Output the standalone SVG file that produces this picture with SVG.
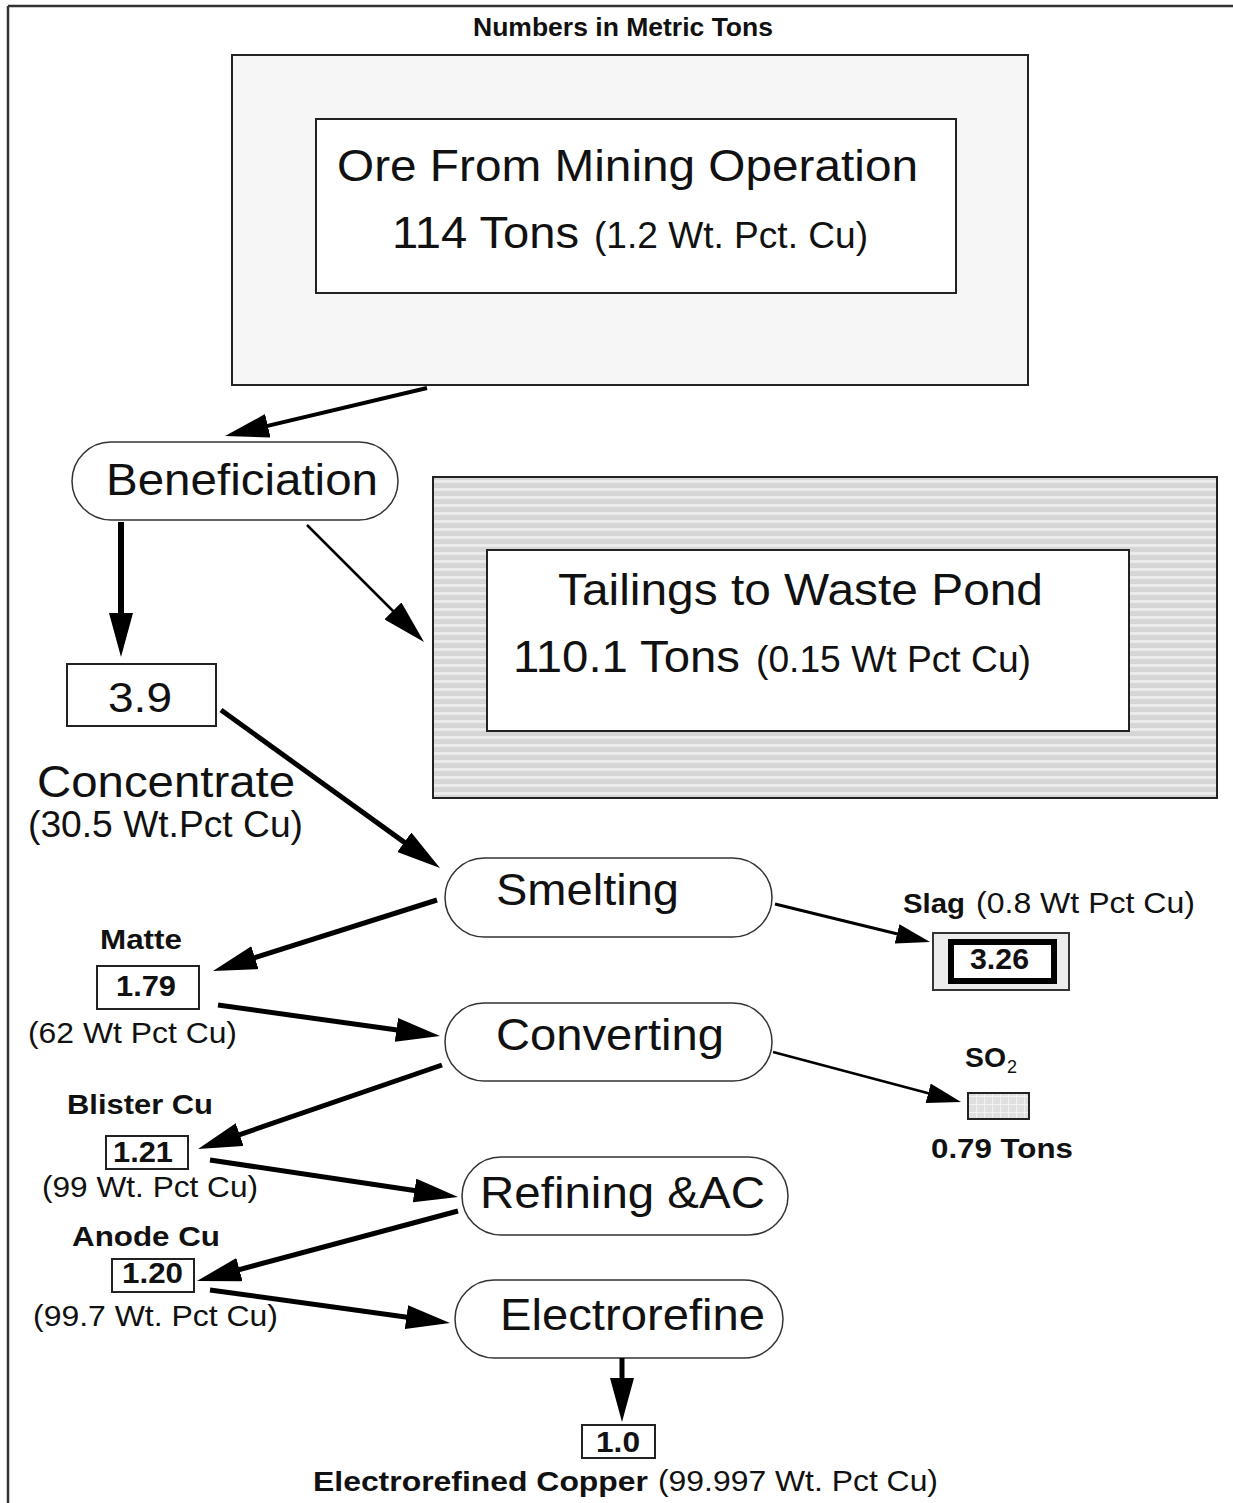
<svg xmlns="http://www.w3.org/2000/svg" width="1233" height="1503" viewBox="0 0 1233 1503">
<style>
text{font-family:"Liberation Sans",Arial,sans-serif;fill:#111}
.b{font-weight:bold}
.box{fill:#fff;stroke:#222;stroke-width:2}
.pill{fill:#fff;stroke:#333;stroke-width:1.5}
.c{fill:none;stroke:#000}
</style>
<defs>
<marker id="ah" markerUnits="userSpaceOnUse" viewBox="0 0 44 24" markerWidth="44" markerHeight="24" refX="10" refY="12" orient="auto"><path d="M0,0 L44,12 L0,24 Z" fill="#000"/></marker>
<marker id="ahs" markerUnits="userSpaceOnUse" viewBox="0 0 34 20" markerWidth="34" markerHeight="20" refX="8" refY="10" orient="auto"><path d="M0,0 L34,10 L0,20 Z" fill="#000"/></marker>
<pattern id="stripes" patternUnits="userSpaceOnUse" width="8" height="8"><rect width="8" height="8" fill="#d6d6d6"/><rect y="0" width="8" height="3" fill="#ebebeb"/></pattern>
<pattern id="grid" patternUnits="userSpaceOnUse" width="8" height="8"><rect width="8" height="8" fill="#e0e0e0"/><path d="M0,0.5 H8 M0.5,0 V8" stroke="#f2f2f2" stroke-width="1"/></pattern>
</defs>

<g id="frame"><path d="M8,6 H1233 M8,6 V1503" fill="none" stroke="#333" stroke-width="2.5"/></g>

<g id="title"><text class="b" x="473" y="36" font-size="25" textLength="300" lengthAdjust="spacingAndGlyphs">Numbers in Metric Tons</text></g>

<g id="ore">
<rect x="232" y="55" width="796" height="330" fill="#f6f6f6" stroke="#222" stroke-width="2"/>
<rect class="box" x="316" y="119" width="640" height="174"/>
<text x="337" y="181" font-size="45" textLength="581" lengthAdjust="spacingAndGlyphs">Ore From Mining Operation</text>
<text x="392" y="248" font-size="45" textLength="187" lengthAdjust="spacingAndGlyphs">114 Tons</text>
<text x="594" y="248" font-size="36" textLength="274" lengthAdjust="spacingAndGlyphs">(1.2 Wt. Pct. Cu)</text>
</g>

<g id="beneficiation">
<rect class="pill" x="72" y="442" width="326" height="78" rx="39"/>
<text x="106" y="495" font-size="45" textLength="272" lengthAdjust="spacingAndGlyphs">Beneficiation</text>
</g>

<g id="tailings">
<rect x="433" y="477" width="784" height="321" fill="url(#stripes)" stroke="#222" stroke-width="2"/>
<rect class="box" x="487" y="550" width="642" height="181"/>
<text x="558" y="605" font-size="45" textLength="485" lengthAdjust="spacingAndGlyphs">Tailings to Waste Pond</text>
<text x="513" y="672" font-size="45" textLength="227" lengthAdjust="spacingAndGlyphs">110.1 Tons</text>
<text x="756" y="672" font-size="36" textLength="275" lengthAdjust="spacingAndGlyphs">(0.15 Wt Pct Cu)</text>
</g>

<g id="concentrate">
<rect class="box" x="67" y="664" width="149" height="62" stroke-width="1.5"/>
<text x="108" y="712" font-size="43" textLength="64" lengthAdjust="spacingAndGlyphs">3.9</text>
<text x="37" y="797" font-size="44" textLength="258" lengthAdjust="spacingAndGlyphs">Concentrate</text>
<text x="28" y="837" font-size="36" textLength="275" lengthAdjust="spacingAndGlyphs">(30.5 Wt.Pct Cu)</text>
</g>

<g id="smelting">
<rect class="pill" x="445" y="858" width="327" height="79" rx="39.5"/>
<text x="496" y="905" font-size="45" textLength="183" lengthAdjust="spacingAndGlyphs">Smelting</text>
</g>

<g id="converting">
<rect class="pill" x="445" y="1003" width="327" height="78" rx="39"/>
<text x="496" y="1050" font-size="45" textLength="228" lengthAdjust="spacingAndGlyphs">Converting</text>
</g>

<g id="refining">
<rect class="pill" x="462" y="1157" width="326" height="78" rx="39"/>
<text x="480" y="1208" font-size="45" textLength="285" lengthAdjust="spacingAndGlyphs">Refining &amp;AC</text>
</g>

<g id="electrorefine">
<rect class="pill" x="455" y="1280" width="328" height="78" rx="39"/>
<text x="500" y="1330" font-size="45" textLength="265" lengthAdjust="spacingAndGlyphs">Electrorefine</text>
</g>

<g id="matte">
<text class="b" x="100" y="949" font-size="28" textLength="82" lengthAdjust="spacingAndGlyphs">Matte</text>
<rect class="box" x="97" y="966" width="102" height="43"/>
<text class="b" x="116" y="996" font-size="30" textLength="60" lengthAdjust="spacingAndGlyphs">1.79</text>
<text x="28" y="1043" font-size="29" textLength="209" lengthAdjust="spacingAndGlyphs">(62 Wt Pct Cu)</text>
</g>

<g id="blister">
<text class="b" x="67" y="1114" font-size="28" textLength="146" lengthAdjust="spacingAndGlyphs">Blister Cu</text>
<rect class="box" x="106" y="1136" width="82" height="33"/>
<text class="b" x="113" y="1162" font-size="30" textLength="60" lengthAdjust="spacingAndGlyphs">1.21</text>
<text x="42" y="1197" font-size="29" textLength="216" lengthAdjust="spacingAndGlyphs">(99 Wt. Pct Cu)</text>
</g>

<g id="anode">
<text class="b" x="72" y="1246" font-size="28" textLength="148" lengthAdjust="spacingAndGlyphs">Anode Cu</text>
<rect class="box" x="112" y="1259" width="82" height="33"/>
<text class="b" x="122" y="1283" font-size="30" textLength="61" lengthAdjust="spacingAndGlyphs">1.20</text>
<text x="33" y="1326" font-size="29" textLength="245" lengthAdjust="spacingAndGlyphs">(99.7 Wt. Pct Cu)</text>
</g>

<g id="copper">
<rect class="box" x="582" y="1425" width="73" height="33"/>
<text class="b" x="596" y="1452" font-size="30" textLength="44" lengthAdjust="spacingAndGlyphs">1.0</text>
<text class="b" x="313" y="1491" font-size="28" textLength="335" lengthAdjust="spacingAndGlyphs">Electrorefined Copper</text>
<text x="658" y="1491" font-size="29" textLength="280" lengthAdjust="spacingAndGlyphs">(99.997 Wt. Pct Cu)</text>
</g>

<g id="slag">
<text class="b" x="903" y="913" font-size="28" textLength="62" lengthAdjust="spacingAndGlyphs">Slag</text>
<text x="976" y="913" font-size="29" textLength="219" lengthAdjust="spacingAndGlyphs">(0.8 Wt Pct Cu)</text>
<rect x="933" y="933" width="136" height="57" fill="#ececec" stroke="#333" stroke-width="2"/>
<rect x="951" y="942" width="103" height="39" fill="#fff" stroke="#000" stroke-width="6"/>
<text class="b" x="970" y="969" font-size="30" textLength="59" lengthAdjust="spacingAndGlyphs">3.26</text>
</g>

<g id="so2">
<text class="b" x="965" y="1067" font-size="28" textLength="41" lengthAdjust="spacingAndGlyphs">SO</text>
<text x="1007" y="1073" font-size="18">2</text>
<rect x="968" y="1093" width="61" height="26" fill="url(#grid)" stroke="#222" stroke-width="2"/>
<text class="b" x="931" y="1158" font-size="28" textLength="142" lengthAdjust="spacingAndGlyphs">0.79 Tons</text>
</g>

<g id="connectors">
<line class="c" x1="427" y1="388" x2="258.1" y2="428.1" stroke-width="4" marker-end="url(#ah)"/>
<line class="c" x1="121" y1="522" x2="121" y2="623" stroke-width="6" marker-end="url(#ah)"/>
<line class="c" x1="307" y1="525" x2="400" y2="618" stroke-width="2.5" marker-end="url(#ah)"/>
<line class="c" x1="221" y1="710" x2="412.4" y2="848.1" stroke-width="5" marker-end="url(#ah)"/>
<line class="c" x1="437" y1="900" x2="245.4" y2="960.7" stroke-width="5" marker-end="url(#ah)"/>
<line class="c" x1="218" y1="1005" x2="406.3" y2="1031.3" stroke-width="5" marker-end="url(#ah)"/>
<line class="c" x1="442" y1="1065" x2="230.2" y2="1137.9" stroke-width="5" marker-end="url(#ah)"/>
<line class="c" x1="210" y1="1160" x2="424.4" y2="1192" stroke-width="5" marker-end="url(#ah)"/>
<line class="c" x1="458" y1="1211" x2="229.8" y2="1272.2" stroke-width="5" marker-end="url(#ah)"/>
<line class="c" x1="210" y1="1290" x2="416.3" y2="1318.4" stroke-width="5" marker-end="url(#ah)"/>
<line class="c" x1="622" y1="1358" x2="622" y2="1388" stroke-width="5" marker-end="url(#ah)"/>
<line class="c" x1="775" y1="904" x2="904.8" y2="935.8" stroke-width="3" marker-end="url(#ahs)"/>
<line class="c" x1="773" y1="1052" x2="935.9" y2="1095.3" stroke-width="2.5" marker-end="url(#ahs)"/>
</g>
</svg>
